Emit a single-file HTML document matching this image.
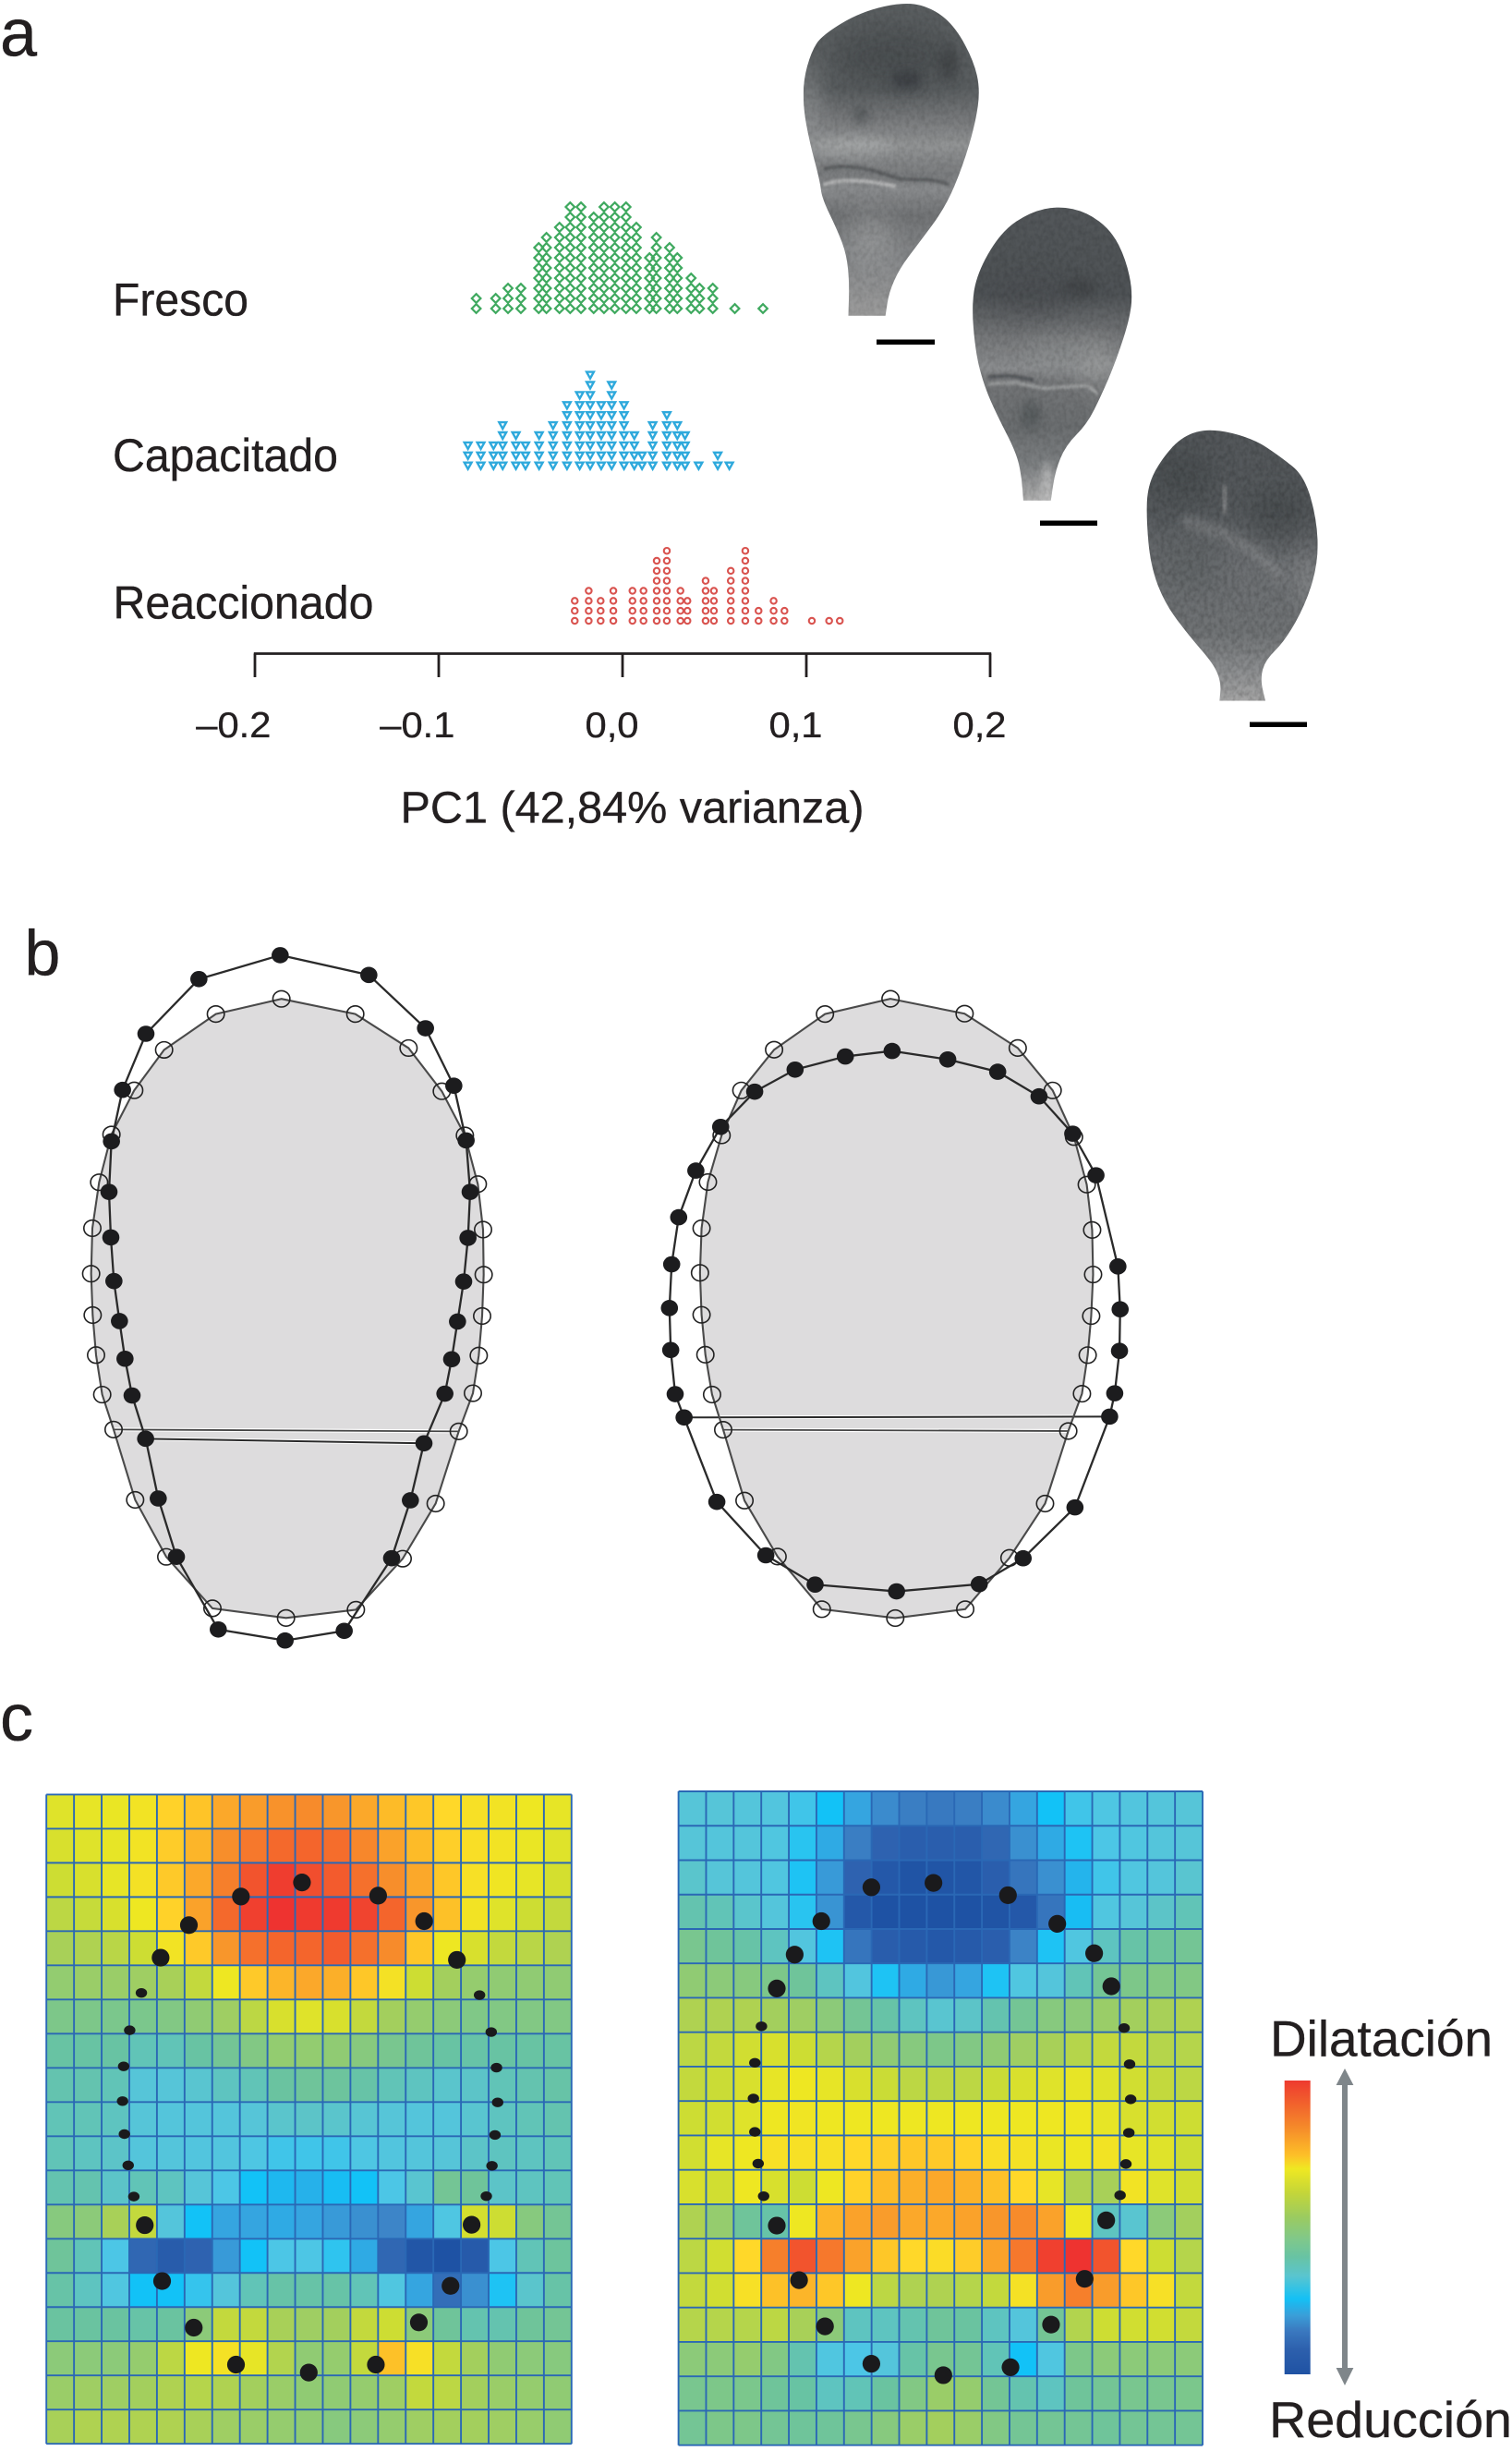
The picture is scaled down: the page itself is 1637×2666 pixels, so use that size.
<!DOCTYPE html>
<html lang="es">
<head>
<meta charset="utf-8">
<title>PC1 acrosoma</title>
<style>
html,body{margin:0;padding:0;background:#fff;}
svg{display:block;}
text{font-family:"Liberation Sans",Arial,sans-serif;fill:#231f20;stroke:#231f20;stroke-width:.35;}
</style>
</head>
<body>
<svg id="fig" xmlns="http://www.w3.org/2000/svg" width="1637" height="2666" viewBox="0 0 1637 2666">
<defs>
<linearGradient id="g1" gradientUnits="userSpaceOnUse" x1="0" y1="0" x2="0" y2="670">
<stop offset="0" stop-color="#5c6062"/><stop offset=".28" stop-color="#5a5e60"/><stop offset=".38" stop-color="#787a7c"/><stop offset=".46" stop-color="#929495"/><stop offset=".55" stop-color="#7a7c7e"/><stop offset=".6" stop-color="#8a8c8e"/><stop offset=".68" stop-color="#727476"/><stop offset=".82" stop-color="#858789"/><stop offset="1" stop-color="#9c9c9c"/>
</linearGradient>
<linearGradient id="g2" gradientUnits="userSpaceOnUse" x1="0" y1="437" x2="0" y2="1062">
<stop offset="0" stop-color="#53575a"/><stop offset=".3" stop-color="#4e5255"/><stop offset=".45" stop-color="#77797b"/><stop offset=".55" stop-color="#8b8d8f"/><stop offset=".6" stop-color="#747678"/><stop offset=".75" stop-color="#6b6e70"/><stop offset=".88" stop-color="#7d8082"/><stop offset="1" stop-color="#b0b0b0"/>
</linearGradient>
<linearGradient id="g3" gradientUnits="userSpaceOnUse" x1="0" y1="908" x2="0" y2="1487">
<stop offset="0" stop-color="#54585b"/><stop offset=".3" stop-color="#55595c"/><stop offset=".5" stop-color="#6c6f72"/><stop offset=".75" stop-color="#707375"/><stop offset=".88" stop-color="#8a8c8e"/><stop offset="1" stop-color="#a6a6a6"/>
</linearGradient>
<linearGradient id="colorbar-gradient" gradientUnits="objectBoundingBox" x1="0" y1="0" x2="0" y2="1">
<stop offset="0" stop-color="#ee3a2f"/><stop offset=".16" stop-color="#f58a2a"/><stop offset=".255" stop-color="#fdc028"/><stop offset=".3" stop-color="#efe822"/><stop offset=".38" stop-color="#c5d638"/><stop offset=".465" stop-color="#9bcb60"/><stop offset=".54" stop-color="#80c88a"/><stop offset=".6" stop-color="#68c3a3"/><stop offset=".665" stop-color="#5ac5cf"/><stop offset=".743" stop-color="#14c0f5"/><stop offset=".8" stop-color="#3a9ed8"/><stop offset=".853" stop-color="#3a78bf"/><stop offset=".915" stop-color="#2d60ad"/><stop offset="1" stop-color="#1f52a3"/>
</linearGradient>
<filter id="b12" x="-100%" y="-100%" width="300%" height="300%"><feGaussianBlur stdDeviation="12"/></filter>
<filter id="b30" x="-150%" y="-150%" width="400%" height="400%"><feGaussianBlur stdDeviation="30"/></filter>
<filter id="b3" x="-20%" y="-100%" width="140%" height="300%"><feGaussianBlur stdDeviation="3"/></filter>
<filter id="grain" x="0" y="0" width="100%" height="100%"><feTurbulence type="fractalNoise" baseFrequency="0.09" numOctaves="2" seed="4"/><feColorMatrix type="matrix" values="0 0 0 0 0  0 0 0 0 0  0 0 0 0 0  1.3 0 0 0 -0.45"/></filter>
<clipPath id="c1"><path id="c1-path" d=""/></clipPath>
<clipPath id="c2"><path id="c2-path" d=""/></clipPath>
<clipPath id="c3"><path id="c3-path" d=""/></clipPath>
</defs>

<rect x="0" y="0" width="1637" height="2666" fill="#fff"/>

<text x="0" y="60.5" font-size="72">a</text>
<text x="26.5" y="1055.5" font-size="70">b</text>
<text x="0" y="1884" font-size="72">c</text>

<g transform="translate(840,0) scale(0.3827,0.5102)">
  <g clip-path="url(#c1)">
    <rect x="60" y="0" width="540" height="680" fill="url(#g1)"/>
    <ellipse cx="330" cy="120" rx="170" ry="60" fill="#44484b" opacity=".7" filter="url(#b30)"/>
    <ellipse cx="370" cy="170" rx="45" ry="18" fill="#36393d" opacity=".7" filter="url(#b12)"/>
    <ellipse cx="490" cy="135" rx="28" ry="36" fill="#3a3e41" opacity=".6" filter="url(#b12)"/>
    <ellipse cx="240" cy="245" rx="22" ry="10" fill="#383c40" opacity=".7" filter="url(#b12)"/>
    <ellipse cx="90" cy="230" rx="28" ry="90" fill="#9a9c9e" opacity=".7" filter="url(#b30)"/>
    <ellipse cx="220" cy="310" rx="110" ry="18" fill="#a8aaab" opacity=".7" filter="url(#b12)"/>
    <ellipse cx="270" cy="510" rx="70" ry="50" fill="#a0a2a3" opacity=".6" filter="url(#b30)"/>
    <path d="M135,358 C190,348 260,355 330,375 C370,388 430,372 490,392" fill="none" stroke="#3e4042" stroke-width="5" opacity=".8" filter="url(#b3)"/>
    <path d="M135,392 C180,378 270,382 340,396" fill="none" stroke="#cfcfcf" stroke-width="6" opacity=".85" filter="url(#b3)"/>
    <rect x="60" y="0" width="540" height="680" filter="url(#grain)" opacity=".16"/>
  </g>
  <g clip-path="url(#c2)">
    <rect x="540" y="430" width="480" height="640" fill="url(#g2)"/>
    <ellipse cx="860" cy="610" rx="50" ry="18" fill="#3c4043" opacity=".6" filter="url(#b12)"/>
    <ellipse cx="720" cy="630" rx="110" ry="30" fill="#484c4f" opacity=".6" filter="url(#b30)"/>
    <ellipse cx="820" cy="750" rx="120" ry="24" fill="#929495" opacity=".7" filter="url(#b30)"/>
    <ellipse cx="910" cy="780" rx="50" ry="40" fill="#a0a2a2" opacity=".7" filter="url(#b30)"/>
    <ellipse cx="720" cy="880" rx="30" ry="30" fill="#4e5254" opacity=".6" filter="url(#b12)"/>
    <path d="M600,800 L660,797 730,806" fill="none" stroke="#33363a" stroke-width="5" opacity=".8" filter="url(#b3)"/>
    <path d="M600,815 L680,812 760,824 880,818 910,835" fill="none" stroke="#b4b6b6" stroke-width="6" opacity=".8" filter="url(#b3)"/>
    <rect x="756" y="985" width="22" height="80" fill="#d0d0d0" opacity=".7" filter="url(#b12)"/>
    <rect x="540" y="430" width="480" height="640" filter="url(#grain)" opacity=".18"/>
  </g>
  <g clip-path="url(#c3)">
    <rect x="1040" y="900" width="510" height="600" fill="url(#g3)"/>
    <ellipse cx="1150" cy="1010" rx="90" ry="50" fill="#44484c" opacity=".7" filter="url(#b30)"/>
    <ellipse cx="1420" cy="1090" rx="80" ry="50" fill="#44484b" opacity=".7" filter="url(#b30)"/>
    <rect x="1264" y="1030" width="12" height="60" fill="#86888a" opacity=".8" filter="url(#b3)"/>
    <path d="M1150,1105 L1260,1130 1370,1180 1430,1225" fill="none" stroke="#8d8f91" stroke-width="20" opacity=".7" filter="url(#b12)"/>
    <ellipse cx="1500" cy="1230" rx="35" ry="55" fill="#8c8e90" opacity=".7" filter="url(#b30)"/>
    <ellipse cx="1170" cy="1200" rx="90" ry="50" fill="#5a5e61" opacity=".6" filter="url(#b30)"/>
    <rect x="1040" y="900" width="510" height="600" filter="url(#grain)" opacity=".26"/>
  </g>
</g>
<rect x="949" y="367.5" width="63" height="5.5" fill="#000"/>
<rect x="1126" y="563.5" width="62" height="5.5" fill="#000"/>
<rect x="1353" y="781.5" width="62" height="5.5" fill="#000"/>

<text x="122" y="341.5" font-size="50" textLength="147" lengthAdjust="spacingAndGlyphs">Fresco</text>
<text x="122" y="510" font-size="50" textLength="244" lengthAdjust="spacingAndGlyphs">Capacitado</text>
<text x="122.5" y="669.5" font-size="50" textLength="282" lengthAdjust="spacingAndGlyphs">Reaccionado</text>
<text x="433.5" y="890.5" font-size="48" textLength="502" lengthAdjust="spacingAndGlyphs">PC1 (42,84% varianza)</text>

<g id="dotplot"></g>
<g id="axis"></g>
<g id="shapes"></g>
<g id="heatmaps"></g>

<rect x="1390.7" y="2252" width="28" height="318" fill="url(#colorbar-gradient)"/>
<g>
  <rect x="1453" y="2252" width="6" height="318" fill="#7f868a"/>
  <path d="M1456,2239 L1465.4,2257 1446.6,2257Z" fill="#7f868a"/>
  <path d="M1456,2582 L1465.4,2563 1446.6,2563Z" fill="#7f868a"/>
</g>
<text x="1375" y="2225.5" font-size="55" textLength="241" lengthAdjust="spacingAndGlyphs">Dilatación</text>
<text x="1374" y="2638" font-size="55" textLength="263" lengthAdjust="spacingAndGlyphs">Reducción</text>

<script>
// ---------- panel a data ----------
var frescoPC1 = [-0.0796,-0.0690,-0.0623,-0.0553,-0.0456,-0.0414,-0.0343,-0.0285,-0.0226,-0.0157,-0.0101,-0.0042,0.0019,0.0075,0.0147,0.0184,0.0256,0.0298,0.0373,0.0419,0.0491,0.0611,0.0764];
var frescoCounts = [2,2,3,3,7,8,9,11,11,10,11,11,11,9,6,8,7,6,4,3,3,1,1];
var capacitadoPC1 = [-0.0841,-0.0771,-0.0702,-0.0652,-0.0580,-0.0528,-0.0454,-0.0378,-0.0302,-0.0233,-0.0176,-0.0116,-0.0059,0.0008,0.0064,0.0106,0.0164,0.0241,0.0298,0.0340,0.0414,0.0518,0.0581];
var capacitadoCounts = [3,3,3,5,4,3,4,5,7,8,10,7,9,7,4,2,5,6,5,4,1,2,1];
var reaccionadoPC1 = [-0.0260,-0.0184,-0.0119,-0.0050,0.0054,0.0114,0.0186,0.0241,0.0315,0.0353,0.0452,0.0497,0.0589,0.0668,0.0740,0.0822,0.0881,0.1030,0.1124,0.1182];
var reaccionadoCounts = [3,4,3,4,4,4,7,8,4,3,5,4,6,8,2,3,2,1,1,1];
var tickValues = [-0.2,-0.1,0,0.1,0.2];
var tickLabels = ['\u20130.2','\u20130.1','0,0','0,1','0,2'];

// ---------- panel b data (landmarks in digitising units, clockwise from apex) ----------
var leftFilledX = [700,988,1172,1264,1304,1317,1310,1296,1276,1257,1235,1167,1123,1062,908,716,499,363,304,263,219,196,178,160,150,144,152,188,264,436];
var leftFilledY = [28,71,187,312,431,543,643,738,825,907,982,1090,1214,1340,1498,1519,1495,1337,1210,1080,986,906,824,737,642,543,433,321,199,80];
var leftOpenX = [704,944,1117,1225,1300,1342,1359,1361,1356,1345,1326,1280,1205,1098,946,719,480,330,229,159,122,102,91,86,90,112,152,226,323,491];
var leftOpenY = [123,156,230,324,420,526,625,723,813,899,981,1064,1221,1341,1452,1470,1449,1337,1213,1060,984,898,811,721,622,522,418,322,234,156];
var rightFilledX = [772,947,1104,1234,1340,1413,1482,1489,1487,1472,1456,1347,1184,1046,786,530,375,221,118,90,76,72,79,101,155,233,340,467,625];
var rightFilledY = [169,189,218,276,364,462,677,778,876,976,1031,1245,1365,1426,1443,1427,1358,1232,1033,978,874,775,672,561,451,348,265,213,182];
var rightOpenX = [767,1000,1167,1277,1344,1384,1401,1404,1398,1387,1369,1326,1253,1141,1002,782,551,412,308,241,206,185,173,168,173,193,236,298,401,561];
var rightOpenY = [46,81,162,262,372,484,591,696,794,886,977,1065,1236,1364,1485,1506,1485,1361,1229,1062,979,885,791,692,587,478,368,262,166,82];

// ---------- panel c data ----------
var heatLeft = [
[0.38,0.40,0.41,0.44,0.52,0.57,0.66,0.70,0.73,0.75,0.72,0.66,0.60,0.56,0.50,0.46,0.44,0.42,0.40],
[0.36,0.38,0.40,0.44,0.54,0.62,0.74,0.80,0.84,0.85,0.83,0.76,0.68,0.60,0.53,0.47,0.44,0.41,0.38],
[0.33,0.36,0.40,0.45,0.55,0.66,0.78,0.90,0.97,0.92,0.88,0.82,0.74,0.66,0.56,0.46,0.43,0.40,0.35],
[0.28,0.31,0.36,0.42,0.52,0.68,0.84,0.96,1.00,0.98,0.98,0.95,0.85,0.72,0.58,0.44,0.38,0.33,0.30],
[0.22,0.24,0.27,0.33,0.44,0.55,0.72,0.82,0.85,0.85,0.88,0.82,0.75,0.56,0.42,0.36,0.30,0.27,0.24],
[0.13,0.16,0.16,0.18,0.22,0.30,0.42,0.55,0.62,0.66,0.64,0.56,0.45,0.33,0.20,0.14,0.12,0.12,0.12],
[0.04,0.04,0.03,0.03,0.06,0.12,0.18,0.28,0.36,0.38,0.36,0.30,0.20,0.14,0.10,0.05,0.06,0.06,0.06],
[-0.05,-0.05,-0.05,-0.10,-0.10,-0.05,0,0.06,0.13,0.13,0.12,0.08,0.02,-0.02,-0.05,-0.06,-0.05,-0.05,-0.05],
[-0.08,-0.08,-0.10,-0.18,-0.18,-0.16,-0.12,-0.10,-0.04,-0.02,-0.03,-0.06,-0.10,-0.12,-0.15,-0.14,-0.10,-0.08,-0.06],
[-0.10,-0.10,-0.12,-0.18,-0.20,-0.20,-0.20,-0.18,-0.15,-0.14,-0.15,-0.17,-0.18,-0.20,-0.20,-0.16,-0.12,-0.10,-0.08],
[-0.10,-0.12,-0.14,-0.20,-0.20,-0.22,-0.22,-0.26,-0.30,-0.30,-0.30,-0.26,-0.22,-0.20,-0.18,-0.14,-0.12,-0.12,-0.10],
[-0.08,-0.08,-0.14,-0.10,-0.12,-0.18,-0.28,-0.38,-0.42,-0.45,-0.40,-0.38,-0.28,-0.16,0.00,-0.02,-0.14,-0.12,-0.10],
[0.08,0.10,0.22,0.30,-0.20,-0.38,-0.50,-0.50,-0.48,-0.50,-0.55,-0.60,-0.65,-0.50,-0.25,0.35,0.33,0.08,0.00],
[-0.02,-0.10,-0.28,-0.78,-0.88,-0.80,-0.55,-0.38,-0.28,-0.27,-0.33,-0.48,-0.78,-0.95,-1.00,-0.90,-0.28,-0.10,-0.03],
[-0.06,-0.12,-0.24,-0.38,-0.38,-0.32,-0.20,-0.10,-0.06,-0.06,-0.06,-0.10,-0.24,-0.50,-0.75,-0.60,-0.36,-0.15,-0.06],
[-0.04,-0.04,-0.04,-0.06,-0.04,0.10,0.30,0.30,0.22,0.18,0.20,0.30,0.33,0.10,-0.02,-0.08,-0.08,-0.02,0.00],
[0.10,0.10,0.10,0.14,0.28,0.42,0.45,0.40,0.25,0.12,0.14,0.30,0.58,0.46,0.30,0.20,0.12,0.10,0.08],
[0.16,0.18,0.18,0.20,0.24,0.26,0.24,0.20,0.16,0.12,0.12,0.14,0.18,0.30,0.28,0.20,0.16,0.14,0.12],
[0.22,0.24,0.24,0.24,0.24,0.22,0.18,0.16,0.14,0.12,0.08,0.10,0.14,0.18,0.20,0.20,0.18,0.15,0.12]
];
var heatRight = [
[-0.18,-0.18,-0.20,-0.22,-0.30,-0.38,-0.50,-0.62,-0.68,-0.70,-0.68,-0.62,-0.50,-0.38,-0.30,-0.26,-0.22,-0.20,-0.18],
[-0.18,-0.20,-0.20,-0.24,-0.34,-0.48,-0.68,-0.80,-0.85,-0.85,-0.85,-0.78,-0.60,-0.48,-0.36,-0.28,-0.24,-0.20,-0.18],
[-0.15,-0.18,-0.20,-0.24,-0.36,-0.55,-0.80,-0.92,-0.98,-0.96,-0.95,-0.85,-0.72,-0.60,-0.44,-0.30,-0.24,-0.20,-0.16],
[-0.08,-0.10,-0.15,-0.20,-0.34,-0.58,-0.92,-1.00,-1.00,-1.00,-1.00,-0.98,-0.92,-0.72,-0.40,-0.24,-0.18,-0.14,-0.10],
[0.02,-0.02,-0.06,-0.12,-0.22,-0.36,-0.72,-0.86,-0.90,-0.92,-0.90,-0.85,-0.66,-0.36,-0.24,-0.12,-0.06,-0.02,0.00],
[0.12,0.10,0.08,0.04,-0.02,-0.12,-0.22,-0.36,-0.48,-0.56,-0.50,-0.36,-0.24,-0.20,-0.10,0.00,0.04,0.06,0.06],
[0.24,0.24,0.24,0.20,0.18,0.10,0.00,-0.06,-0.12,-0.16,-0.14,-0.08,0.00,0.08,0.10,0.16,0.20,0.22,0.24],
[0.28,0.30,0.34,0.36,0.33,0.26,0.20,0.12,0.08,0.04,0.06,0.12,0.18,0.22,0.26,0.30,0.30,0.26,0.26],
[0.30,0.32,0.36,0.40,0.42,0.40,0.36,0.32,0.28,0.28,0.28,0.32,0.36,0.38,0.40,0.38,0.34,0.30,0.28],
[0.33,0.34,0.38,0.42,0.43,0.42,0.42,0.42,0.42,0.42,0.42,0.42,0.42,0.42,0.42,0.40,0.36,0.34,0.33],
[0.34,0.40,0.42,0.46,0.46,0.46,0.50,0.53,0.56,0.55,0.52,0.47,0.45,0.41,0.42,0.44,0.40,0.38,0.33],
[0.36,0.34,0.42,0.36,0.33,0.42,0.52,0.60,0.64,0.66,0.63,0.58,0.50,0.40,0.24,0.22,0.44,0.38,0.34],
[0.24,0.14,-0.02,-0.06,0.42,0.62,0.68,0.70,0.66,0.66,0.68,0.72,0.75,0.68,0.42,-0.12,-0.16,0.10,0.20],
[0.28,0.34,0.50,0.78,0.90,0.80,0.68,0.56,0.50,0.48,0.54,0.68,0.80,0.96,1.00,0.90,0.50,0.33,0.26],
[0.30,0.34,0.46,0.58,0.62,0.56,0.42,0.28,0.24,0.24,0.26,0.30,0.45,0.70,0.78,0.70,0.56,0.46,0.30],
[0.26,0.26,0.26,0.28,0.22,0.10,-0.12,-0.12,-0.08,-0.02,-0.04,-0.12,-0.20,0.00,0.25,0.33,0.34,0.34,0.30],
[0.10,0.10,0.14,0.06,-0.08,-0.24,-0.28,-0.20,-0.06,0.02,0.00,-0.10,-0.38,-0.24,0.04,0.10,0.10,0.10,0.10],
[0.02,0.04,0.03,-0.02,-0.05,-0.12,-0.10,-0.04,0.06,0.16,0.14,0.00,-0.08,-0.12,-0.02,0.00,0.02,0.02,0.03],
[0.00,0.04,0.04,0.00,-0.02,-0.02,0.02,0.08,0.16,0.20,0.16,0.06,0.00,0.00,0.00,-0.02,0.00,0.00,0.00]
];
var colorValues = [-1,-0.8,-0.65,-0.5,-0.38,-0.28,-0.18,-0.05,0.08,0.22,0.33,0.42,0.5,0.6,0.72,0.85,1];
var colorHexes = ['#1e52a4','#2e62b0','#3d85c8','#35a5e0','#12c2f7','#4cc6e6','#56c5d8','#68c3a3','#87c97e','#a8d058','#cddd33','#eee722','#ffd829','#fdbb28','#f8962b','#f4652c','#ee3330'];
var heatLeftDotsX = [801,1003,1125,1212,1272,1303,1317,1320,1313,1305,1290,1251,1195,1111,997,819,626,514,430,384,355,340,330,325,328,344,375,426,501,639];
var heatLeftDotsY = [247,277,335,423,503,587,668,747,821,891,960,1025,1164,1247,1343,1361,1343,1259,1153,1026,961,890,819,744,665,583,498,418,344,279];
var heatRightDotsX = [735,939,1074,1175,1222,1257,1272,1275,1270,1262,1246,1208,1149,1057,946,762,565,438,367,306,270,255,246,242,246,264,306,355,428,565];
var heatRightDotsY = [248,276,341,408,483,578,660,740,816,887,958,1015,1148,1252,1349,1367,1341,1256,1151,1027,960,886,814,738,657,574,488,411,335,258];

// ---------- micrograph outlines (smoothed into clip paths) ----------
function smoothOutline(p) {
  var n = p.length, d = '';
  for (var i = 0; i < n; i++) {
    var a = p[i], b = p[(i + 1) % n];
    var mx = (a[0] + b[0]) / 2, my = (a[1] + b[1]) / 2;
    d += (i === 0 ? 'M' + mx + ',' + my : 'Q' + a[0] + ',' + a[1] + ' ' + mx + ',' + my);
  }
  var f = p[0], s = p[1];
  return d + 'Q' + f[0] + ',' + f[1] + ' ' + (f[0] + s[0]) / 2 + ',' + (f[1] + s[1]) / 2 + 'Z';
}
document.getElementById('c1-path').setAttribute('d', smoothOutline([[370,3],[240,25],[130,75],[100,110],[78,170],[78,230],[95,300],[125,385],[130,420],[175,490],[200,540],[208,600],[205,670],[205,670],[310,670],[310,670],[320,620],[350,570],[400,520],[480,440],[530,350],[565,260],[578,190],[560,130],[510,60],[450,20]]));
document.getElementById('c2-path').setAttribute('d', smoothOutline([[800,437],[720,450],[640,490],[575,570],[553,640],[565,750],[590,820],[625,880],[680,960],[695,1010],[700,1062],[700,1062],[778,1062],[778,1062],[790,1000],[820,945],[880,900],[920,840],[960,770],[1000,680],[1010,620],[990,550],[950,490],[880,450]]));
document.getElementById('c3-path').setAttribute('d', smoothOutline([[1230,908],[1150,925],[1090,975],[1052,1030],[1048,1100],[1060,1200],[1100,1280],[1170,1350],[1240,1410],[1260,1450],[1255,1487],[1255,1487],[1385,1487],[1385,1487],[1370,1440],[1385,1400],[1440,1360],[1500,1280],[1535,1190],[1530,1100],[1495,1010],[1430,970],[1350,930]]));

// ---------- helpers ----------
var NS = 'http://www.w3.org/2000/svg';
function make(parent, tag, attrs) {
  var el = document.createElementNS(NS, tag);
  for (var k in attrs) { el.setAttribute(k, attrs[k]); }
  parent.appendChild(el);
  return el;
}
function xPC(v) { return 674 + 1990 * v; }
var dotplot = document.getElementById('dotplot');
var axis = document.getElementById('axis');
var shapes = document.getElementById('shapes');
var heatmaps = document.getElementById('heatmaps');

// ---------- dot plot ----------
function drawDots(values, counts, base, step, kind, label) {
  var g = make(dotplot, 'g', {});
  
  
  for (var i = 0; i < values.length; i++) {
    for (var j = 0; j < counts[i]; j++) {
      var x = xPC(values[i]);
      var y = base - j * step;
      var mark;
      if (kind === 'diamond') {
        mark = make(g, 'path', {d: 'M' + x + ',' + (y - 4.8) + 'L' + (x + 4.8) + ',' + y + 'L' + x + ',' + (y + 4.8) + 'L' + (x - 4.8) + ',' + y + 'Z', fill: 'none', stroke: '#3fa95f', 'stroke-width': 2.2});
      } else if (kind === 'triangle') {
        mark = make(g, 'path', {d: 'M' + (x - 3.9) + ',' + (y - 3.3) + 'L' + (x + 3.9) + ',' + (y - 3.3) + 'L' + x + ',' + (y + 3.7) + 'Z', fill: 'none', stroke: '#2ea9dc', 'stroke-width': 2.4});
      } else {
        mark = make(g, 'circle', {cx: x, cy: y, r: 3.2, fill: 'none', stroke: '#d9534f', 'stroke-width': 2.1});
      }
      
      
    }
  }
}
drawDots(frescoPC1, frescoCounts, 334, 11, 'diamond', 'fresco');
drawDots(capacitadoPC1, capacitadoCounts, 504, 10.9, 'triangle', 'capacitado');
drawDots(reaccionadoPC1, reaccionadoCounts, 672, 10.83, 'circle', 'reaccionado');

// ---------- axis ----------
var axisLine = make(axis, 'line', {x1: xPC(tickValues[0]) - 1.2, x2: xPC(tickValues[tickValues.length - 1]) + 1.2, y1: 707.5, y2: 707.5, stroke: '#231f20', 'stroke-width': 2.8});


tickValues.forEach(function (t, i) {
  var tick = make(axis, 'line', {x1: xPC(t), x2: xPC(t), y1: 707.5, y2: 733, stroke: '#231f20', 'stroke-width': 2.8});
  
  
  var lab = make(axis, 'text', {x: xPC(t) + 17.5, y: 798, 'font-size': 39, 'text-anchor': 'end'});
  lab.textContent = tickLabels[i];
  lab.setAttribute('textLength', lab.getComputedTextLength() * 1.07);
  lab.setAttribute('lengthAdjust', 'spacingAndGlyphs');
  
  
});

// ---------- shape comparison ----------
function drawShape(openX, openY, filledX, filledY, chordOpen, chordFilled, fx, fy, label) {
  var g = make(shapes, 'g', {});
  
  
  function pts(xs, ys) {
    return xs.map(function (u, i) { return fx(u) + ',' + fy(ys[i]); }).join(' ');
  }
  var fill = make(g, 'polygon', {points: pts(openX, openY), fill: '#dddcdd', stroke: 'none'});
  
  
  function chord(idx, xs, ys, col, w) {
    make(g, 'line', {x1: fx(xs[idx[0]]), y1: fy(ys[idx[0]]), x2: fx(xs[idx[1]]), y2: fy(ys[idx[1]]), stroke: '#fff', 'stroke-width': 4});
    var c = make(g, 'line', {x1: fx(xs[idx[0]]), y1: fy(ys[idx[0]]), x2: fx(xs[idx[1]]), y2: fy(ys[idx[1]]), stroke: col, 'stroke-width': w});
    
    
  }
  chord(chordOpen, openX, openY, '#444', 1.8);
  chord(chordFilled, filledX, filledY, '#2a2a2a', 2);
  var l1 = make(g, 'polygon', {points: pts(openX, openY), fill: 'none', stroke: '#4a4a4a', 'stroke-width': 2.1});
  
  
  var l2 = make(g, 'polygon', {points: pts(filledX, filledY), fill: 'none', stroke: '#2a2a2a', 'stroke-width': 2.3});
  
  
  openX.forEach(function (u, i) {
    var e = make(g, 'ellipse', {cx: fx(u), cy: fy(openY[i]), rx: 9.2, ry: 8.8, fill: 'none', stroke: '#222', 'stroke-width': 1.6});
    
    
  });
  filledX.forEach(function (u, i) {
    var e = make(g, 'ellipse', {cx: fx(u), cy: fy(filledY[i]), rx: 9.3, ry: 8.8, fill: '#1c1c1e'});
    
    
  });
}
drawShape(leftOpenX, leftOpenY, leftFilledX, leftFilledY, [19, 11], [19, 11],
  function (u) { return 70 + u / 3; }, function (v) { return 1020 + v / 2.01; }, 'shape-left');
drawShape(rightOpenX, rightOpenY, rightFilledX, rightFilledY, [19, 11], [18, 10],
  function (u) { return 700 + u / 2.904; }, function (v) { return 1060 + v / 2.178; }, 'shape-right');

// ---------- heat maps ----------
function hexRgb(h) { return [parseInt(h.substr(1, 2), 16), parseInt(h.substr(3, 2), 16), parseInt(h.substr(5, 2), 16)]; }
function colorOf(v) {
  if (v <= colorValues[0]) { return colorHexes[0]; }
  for (var i = 1; i < colorValues.length; i++) {
    if (v <= colorValues[i]) {
      var t = (v - colorValues[i - 1]) / (colorValues[i] - colorValues[i - 1]);
      var a = hexRgb(colorHexes[i - 1]), b = hexRgb(colorHexes[i]);
      return 'rgb(' + Math.round(a[0] + (b[0] - a[0]) * t) + ',' + Math.round(a[1] + (b[1] - a[1]) * t) + ',' + Math.round(a[2] + (b[2] - a[2]) * t) + ')';
    }
  }
  return colorHexes[colorHexes.length - 1];
}
function drawHeat(values, dotsX, dotsY, left, right, top, bottom, fx, fy, isSmall, label) {
  var g = make(heatmaps, 'g', {});
  
  
  var rows = values.length, cols = values[0].length;
  var cw = (right - left) / cols, ch = (bottom - top) / rows;
  values.forEach(function (row, r) {
    row.forEach(function (v, c) {
      var cell = make(g, 'rect', {x: left + c * cw, y: top + r * ch, width: cw + 0.4, height: ch + 0.4, fill: colorOf(v)});
      
      
    });
  });
  for (var c = 0; c <= cols; c++) {
    var vl = make(g, 'line', {x1: left + c * cw, x2: left + c * cw, y1: top, y2: bottom, stroke: '#2a68b5', 'stroke-width': 1.9});
    
    
  }
  for (var r = 0; r <= rows; r++) {
    var hl = make(g, 'line', {x1: left, x2: right, y1: top + r * ch, y2: top + r * ch, stroke: '#2a68b5', 'stroke-width': 1.9});
    
    
  }
  dotsX.forEach(function (u, i) {
    var small = isSmall(i);
    var d = make(g, 'ellipse', {cx: fx(u), cy: fy(dotsY[i]), rx: small ? 6.2 : 9.6, ry: small ? 5.2 : 9.6, fill: '#1a1a1c'});
    
    
  });
}
drawHeat(heatLeft, heatLeftDotsX, heatLeftDotsY, 50.2, 618.8, 1942.4, 2645.2,
  function (u) { return u / 2.45; }, function (v) { return 1920 + v / 2.1; },
  function (i) { return (i >= 4 && i <= 10) || (i >= 20 && i <= 26); }, 'heatmap-left');
drawHeat(heatRight, heatRightDotsX, heatRightDotsY, 734.6, 1302, 1939, 2646.7,
  function (u) { return 720 + u / 2.529; }, function (v) { return 1920 + v / 2.1; },
  function (i) { return (i >= 5 && i <= 10) || (i >= 20 && i <= 25); }, 'heatmap-right');
</script>
</svg>
</body>
</html>
